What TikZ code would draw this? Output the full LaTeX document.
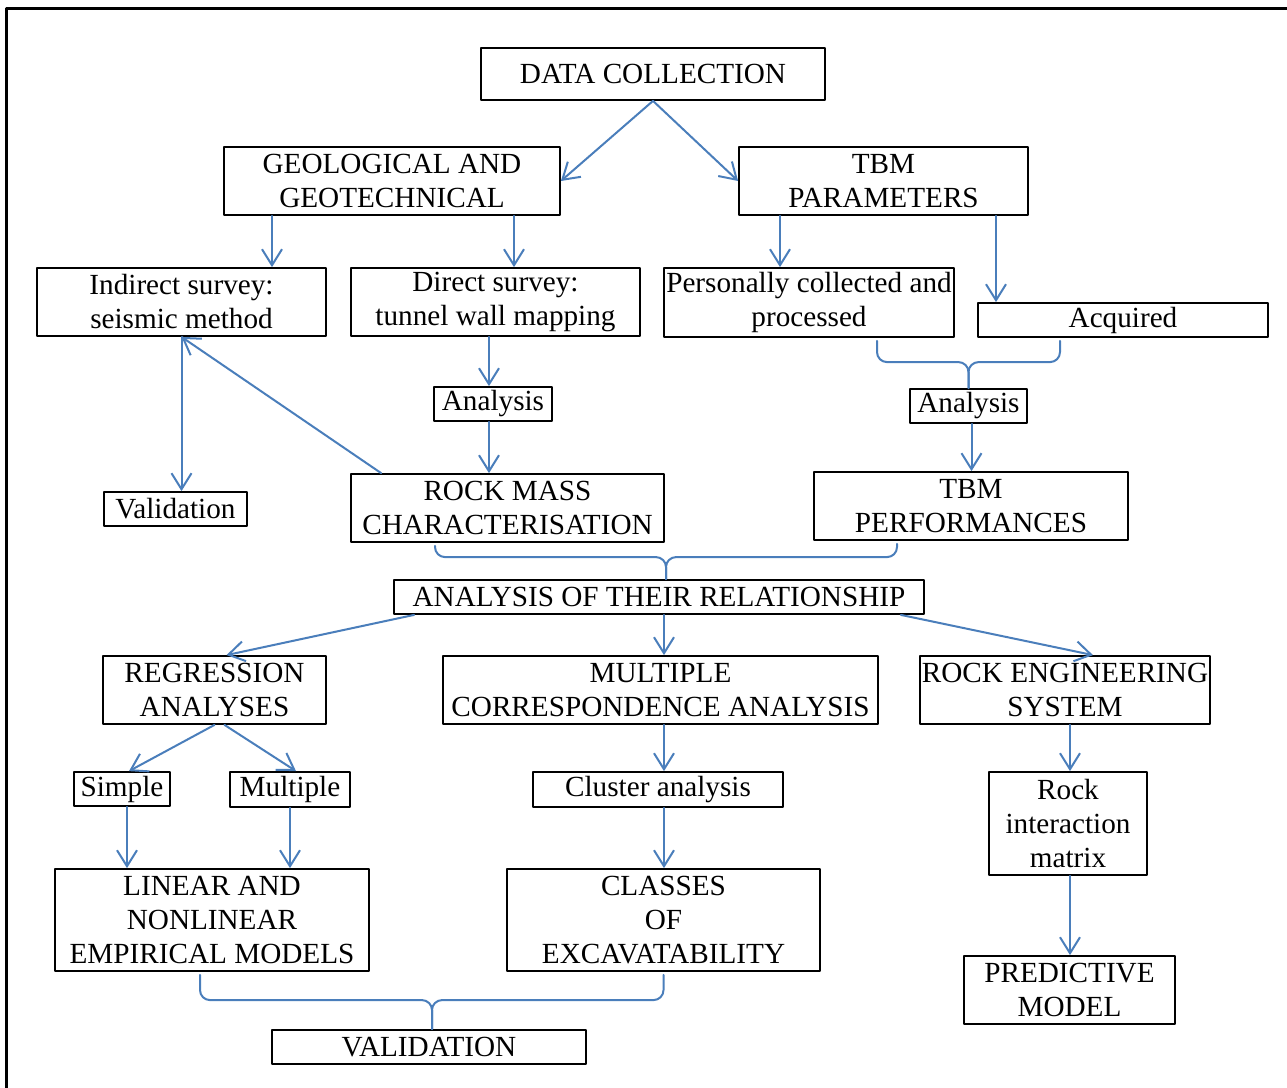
\documentclass[tikz,border=0pt]{standalone}
\usepackage{fontspec}
\setmainfont{Liberation Serif}
\usepackage{tikz}
\usetikzlibrary{arrows.meta,calc}
\definecolor{linkblue}{RGB}{74,126,187}

\begin{document}
\begin{tikzpicture}[line cap=round,line join=round,>={Straight Barb[length=8pt,width=10pt]},x=0.5pt,y=-0.5pt,
  box/.style={draw,line width=0.9pt,inner sep=0pt,align=center,font=\fontsize{14.6}{17}\selectfont},
  link/.style={draw=linkblue,line width=1pt,->},
  brace/.style={draw=linkblue,line width=1pt,rounded corners=5pt}]
\useasboundingbox (0,0) rectangle (1287,1088);
\draw[line width=1.5pt] (6,8) rectangle (1295,1096);
% boxes
\node[box,minimum width=172pt,minimum height=26pt] (dc) at (653,74) {DATA COLLECTION};
\node[box,minimum width=168pt,minimum height=34pt] (geo) at (392,181) {GEOLOGICAL AND\\GEOTECHNICAL};
\node[box,minimum width=144.5pt,minimum height=34pt] (tbm) at (883.5,181) {TBM\\PARAMETERS};
\node[box,minimum width=144.5pt,minimum height=34pt] (ind) at (181.5,302) {Indirect survey:\\seismic method};
\node[box,minimum width=144.5pt,minimum height=34pt] (dir) at (495.5,302) {Direct survey:\\tunnel wall mapping};
\node[box,minimum width=145pt,minimum height=34.5pt] (pers) at (809,302.5) {Personally collected and\\processed};
\node[box,minimum width=145pt,minimum height=17pt] (acq) at (1123,320) {Acquired};
\node[box,minimum width=59pt,minimum height=17pt] (anl) at (493,404) {Analysis};
\node[box,minimum width=58.5pt,minimum height=17pt] (anr) at (968.5,406) {Analysis};
\node[box,minimum width=71.5pt,minimum height=17pt] (val) at (175.5,509) {Validation};
\node[box,minimum width=156.5pt,minimum height=34pt] (rmc) at (507.5,508) {ROCK MASS\\CHARACTERISATION};
\node[box,minimum width=157pt,minimum height=34pt] (tbp) at (971,506) {TBM\\PERFORMANCES};
\node[box,minimum width=265pt,minimum height=17pt] (rel) at (659,597) {ANALYSIS OF THEIR RELATIONSHIP};
\node[box,minimum width=111.5pt,minimum height=34pt] (reg) at (214.5,690) {REGRESSION\\ANALYSES};
\node[box,minimum width=217.5pt,minimum height=34pt] (mca) at (660.5,690) {MULTIPLE\\CORRESPONDENCE ANALYSIS};
\node[box,minimum width=145pt,minimum height=34pt] (res) at (1065,690) {ROCK ENGINEERING\\SYSTEM};
\node[box,minimum width=48pt,minimum height=17pt] (sim) at (122,789) {Simple};
\node[box,minimum width=60pt,minimum height=17.5pt] (mul) at (290,789.5) {Multiple};
\node[box,minimum width=125pt,minimum height=17.5pt] (clu) at (658,789.5) {Cluster analysis};
\node[box,minimum width=79pt,minimum height=51.5pt] (rim) at (1068,823.5) {Rock\\interaction\\matrix};
\node[box,minimum width=157pt,minimum height=51pt] (lin) at (212,920) {LINEAR AND\\NONLINEAR\\EMPIRICAL MODELS};
\node[box,minimum width=156.5pt,minimum height=51pt] (cls) at (663.5,920) {CLASSES\\OF\\EXCAVATABILITY};
\node[box,minimum width=105.5pt,minimum height=34pt] (pre) at (1069.5,990) {PREDICTIVE\\MODEL};
\node[box,minimum width=157pt,minimum height=17pt] (VAL) at (429,1047) {VALIDATION};
% arrows
\draw[link] (dc.south) -- (geo.east);
\draw[link] (dc.south) -- (tbm.west);
\draw[link] ([xshift=-60pt]geo.south) -- ([xshift=-60pt]geo.south |- ind.north);
\draw[link] ([xshift=61pt]geo.south) -- ([xshift=61pt]geo.south |- dir.north);
\draw[link] ([xshift=-51.75pt]tbm.south) -- ([xshift=-51.75pt]tbm.south |- pers.north);
\draw[link] ([xshift=56.25pt]tbm.south) -- ([xshift=56.25pt]tbm.south |- acq.north);
\draw[link] ([xshift=-2pt]anl.north |- dir.south) -- ([xshift=-2pt]anl.north);
\draw[link] ([xshift=-2pt]anl.south) -- ([xshift=-2pt]anl.south |- rmc.north);
\draw[link] (ind.south) -- (ind.south |- val.north);
\draw[link] ([xshift=15.5pt]rmc.north west) -- (ind.south);
\draw[link] ([xshift=1.5pt]anr.south) -- ([xshift=1.5pt]anr.south |- tbp.north);
\draw[link] ([xshift=10.5pt]rel.south west) -- ([xshift=6pt]reg.north);
\draw[link] ([xshift=2.5pt]rel.south) -- ([xshift=2.5pt]rel.south |- mca.north);
\draw[link] ([xshift=-12pt]rel.south east) -- ([xshift=14pt]res.north);
\draw[link] (reg.south) -- ([xshift=3.5pt]sim.north);
\draw[link] ([xshift=5pt]reg.south) -- ([xshift=3pt]mul.north);
\draw[link] ([xshift=2.5pt]sim.south) -- ([xshift=2.5pt]sim.south |- lin.north);
\draw[link] (mul.south) -- (mul.south |- lin.north);
\draw[link] ([xshift=1.75pt]mca.south) -- ([xshift=1.75pt]mca.south |- clu.north);
\draw[link] ([xshift=3pt]clu.south) -- ([xshift=3pt]clu.south |- cls.north);
\draw[link] ([xshift=2.5pt]res.south) -- ([xshift=2.5pt]res.south |- rim.north);
\draw[link] ([xshift=1pt]rim.south) -- ([xshift=1pt]rim.south |- pre.north);
% braces
\draw[brace] ($(pers.south)+(68,3)$) |- ($(anr.north)+(0,-26)$) -- (anr.north);
\draw[brace] ($(acq.south)+(-63,3)$) |- ($(anr.north)+(0,-26)$) -- (anr.north);
\draw[brace] ($(rmc.south)+(-72.5,3)$) |- ($(rel.north)+(7,-22)$) -- ($(rel.north)+(7,0)$);
\draw[brace] ($(tbp.south)+(-74,3)$) |- ($(rel.north)+(7,-22)$) -- ($(rel.north)+(7,0)$);
\draw[brace] ($(lin.south)+(-12,3)$) |- ($(VAL.north)+(3,-29)$) -- ($(VAL.north)+(3,0)$);
\draw[brace] ($(cls.south)+(0,3)$) |- ($(VAL.north)+(3,-29)$) -- ($(VAL.north)+(3,0)$);
\end{tikzpicture}
\end{document}
